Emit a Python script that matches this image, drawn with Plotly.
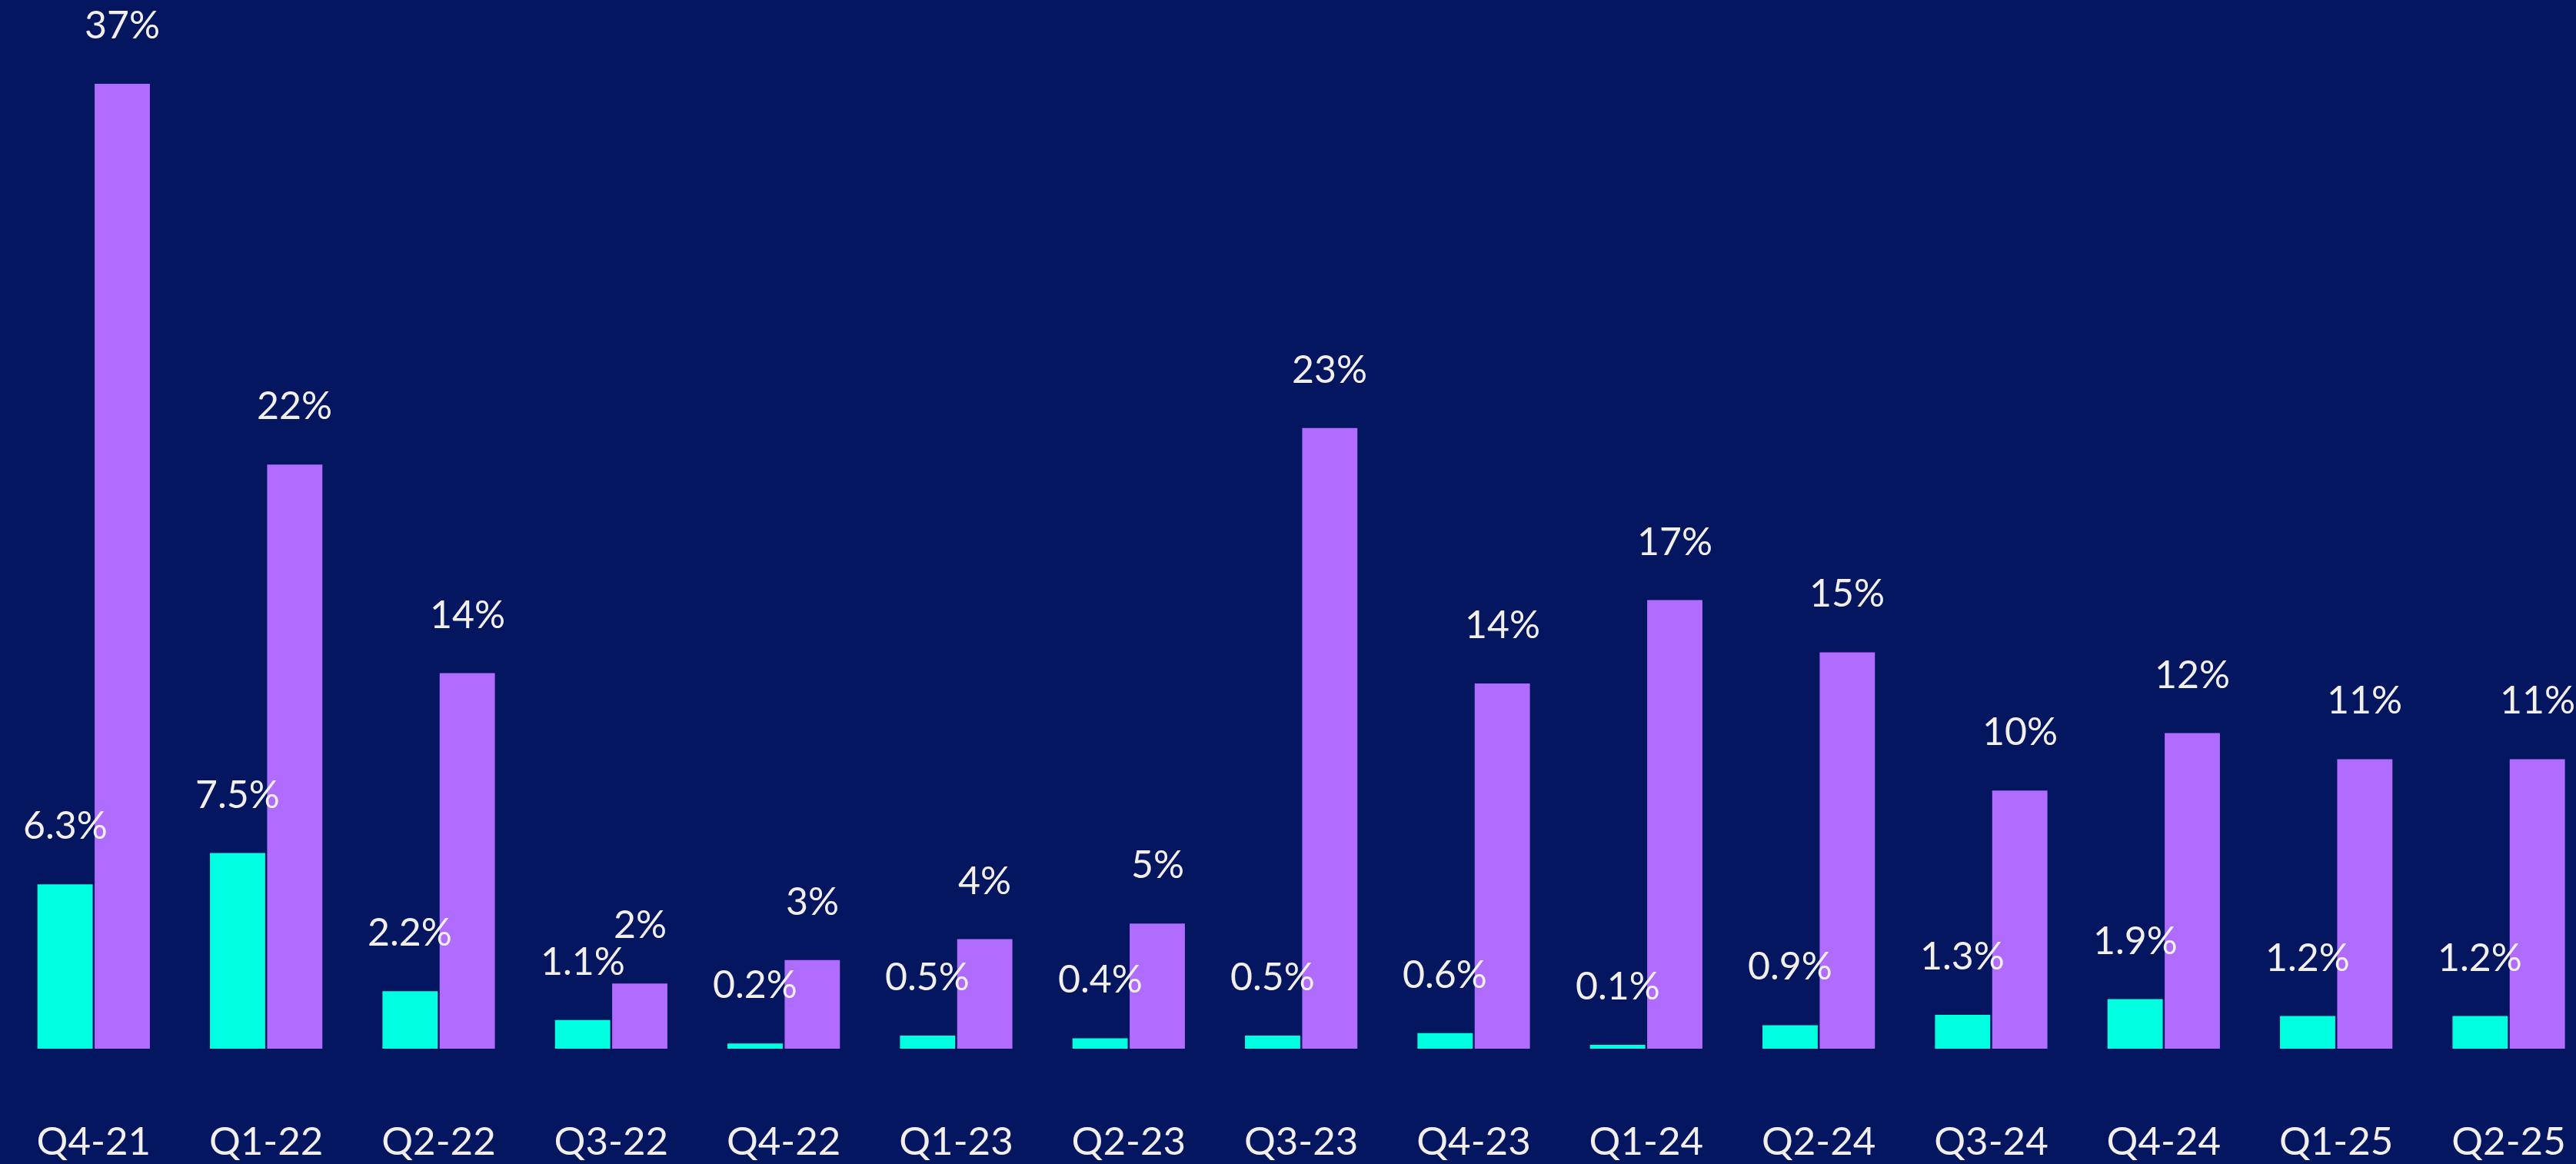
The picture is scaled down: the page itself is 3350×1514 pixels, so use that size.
import plotly.graph_objects as go

quarters = ["Q4-21", "Q1-22", "Q2-22", "Q3-22", "Q4-22", "Q1-23", "Q2-23", "Q3-23",
            "Q4-23", "Q1-24", "Q2-24", "Q3-24", "Q4-24", "Q1-25", "Q2-25"]

teal_values = [6.3, 7.5, 2.2, 1.1, 0.2, 0.5, 0.4, 0.5, 0.6, 0.15, 0.9, 1.3, 1.9, 1.25, 1.25]
teal_labels = ["6.3%", "7.5%", "2.2%", "1.1%", "0.2%", "0.5%", "0.4%", "0.5%", "0.6%",
               "0.1%", "0.9%", "1.3%", "1.9%", "1.2%", "1.2%"]

purple_values = [37.0, 22.4, 14.4, 2.5, 3.4, 4.2, 4.8, 23.8, 14.0, 17.2, 15.2, 9.9, 12.1, 11.1, 11.1]
purple_labels = ["37%", "22%", "14%", "2%", "3%", "4%", "5%", "23%", "14%", "17%", "15%",
                 "10%", "12%", "11%", "11%"]

BG = "#04165F"
TEAL = "#00FFE1"
PURPLE = "#B06CFE"
TEXT = "#F2EEEA"
FONT = "Lato"

BARGAP = 0.337
BARGROUPGAP = 0.034

fig = go.Figure()
fig.add_trace(go.Bar(x=quarters, y=teal_values, marker=dict(color=TEAL, line=dict(width=0)),
                     name="teal"))
fig.add_trace(go.Bar(x=quarters, y=purple_values, marker=dict(color=PURPLE, line=dict(width=0)),
                     name="purple"))

slot = (1 - BARGAP) / 2
offset = slot / 2
annotations = []
for i, q in enumerate(quarters):
    annotations.append(dict(x=i - offset, y=teal_values[i], xref="x", yref="y",
                            text=teal_labels[i], showarrow=False, yanchor="bottom",
                            xanchor="center", yshift=46,
                            font=dict(family=FONT, size=50, color=TEXT)))
    annotations.append(dict(x=i + offset, y=purple_values[i], xref="x", yref="y",
                            text=purple_labels[i], showarrow=False, yanchor="bottom",
                            xanchor="center", yshift=46,
                            font=dict(family=FONT, size=50, color=TEXT)))

fig.update_layout(
    width=3350, height=1514,
    paper_bgcolor=BG, plot_bgcolor=BG,
    margin=dict(l=0, r=0, t=0, b=150),
    barmode="group", bargap=BARGAP, bargroupgap=BARGROUPGAP,
    showlegend=False,
    annotations=annotations,
    xaxis=dict(range=[-0.543, 14.39], showgrid=False, zeroline=False, showline=False,
               ticks="", tickfont=dict(family=FONT, size=51, color=TEXT),
               ticklabelstandoff=86, fixedrange=True),
    yaxis=dict(range=[0, 40.21], showgrid=False, zeroline=False, showline=False,
               showticklabels=False, ticks="", fixedrange=True),
)

fig.write_html("out.html", config={"displayModeBar": False},
               post_script="document.body.style.margin='0';document.body.style.overflow='hidden';"
                           "document.documentElement.style.background='" + BG + "';")
